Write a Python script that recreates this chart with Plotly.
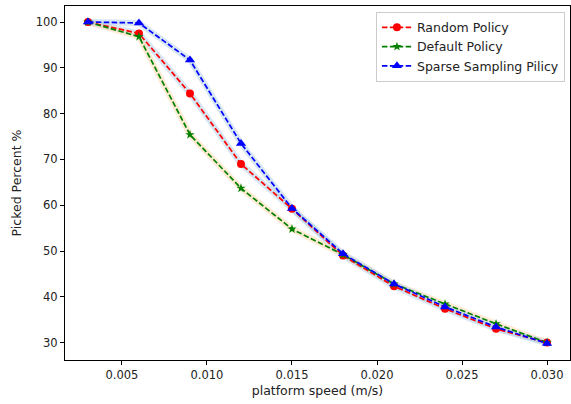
import plotly.graph_objects as go

# platform speed (m/s)
speed = [0.003, 0.006, 0.009, 0.012, 0.015, 0.018, 0.021, 0.024, 0.027, 0.030]

# picked percent per policy
random_policy = [100.0, 97.5, 84.4, 69.0, 59.2, 49.0, 42.3, 37.4, 33.0, 30.0]
default_policy = [100.0, 96.8, 75.4, 63.7, 54.8, 49.2, 42.8, 38.4, 34.1, 30.0]
sparse_policy = [100.0, 99.8, 91.7, 73.5, 59.3, 49.4, 42.8, 37.8, 33.4, 29.8]

series = [
    ("Random Policy", random_policy, "red", "circle", 8, "rgba(173,205,230,0.5)"),
    ("Default Policy", default_policy, "green", "star", 7, "rgba(255,215,170,0.5)"),
    ("Sparse Sampling Pilicy", sparse_policy, "blue", "triangle-up", 9, "rgba(173,205,230,0.5)"),
]

FONT = "DejaVu Sans"
TXT = "#222"

fig = go.Figure()

# soft bands behind each curve
for name, y, color, symbol, size, band in series:
    fig.add_trace(go.Scatter(
        x=speed, y=y, mode="lines", showlegend=False, hoverinfo="skip",
        line=dict(color=band, width=6),
    ))

for name, y, color, symbol, size, band in series:
    fig.add_trace(go.Scatter(
        x=speed, y=y, mode="lines+markers", name=name, legendgroup=name,
        line=dict(color=color, width=1.7, dash="5.5px,2.4px"),
        marker=dict(symbol=symbol, size=size, color=color),
    ))

axis_style = dict(
    showline=True, linecolor="black", linewidth=1, mirror=True,
    ticks="outside", ticklen=4, tickcolor="black", showgrid=False, zeroline=False,
    tickfont=dict(family=FONT, size=11.5, color=TXT),
)

fig.update_xaxes(
    range=[0.00165, 0.03135], tickvals=[0.005, 0.010, 0.015, 0.020, 0.025, 0.030],
    tickformat=".3f",
    title=dict(text="platform speed (m/s)", font=dict(family=FONT, size=12.5, color=TXT), standoff=5),
    **axis_style,
)
fig.update_yaxes(
    range=[26.2, 103.5], tickvals=[30, 40, 50, 60, 70, 80, 90, 100],
    title=dict(text="Picked Percent %", font=dict(family=FONT, size=12.5, color=TXT), standoff=11),
    **axis_style,
)

fig.update_layout(
    width=571, height=404,
    margin=dict(l=65, r=1, t=6, b=44),
    plot_bgcolor="white", paper_bgcolor="white",
    font=dict(family=FONT, size=12, color=TXT),
    legend=dict(
        x=0.99, y=0.984, xanchor="right", yanchor="top",
        bgcolor="white", bordercolor="#ccc", borderwidth=1,
        font=dict(family=FONT, size=12.5, color=TXT),
        itemwidth=30, tracegroupgap=0,
    ),
)

fig.write_html("out.html", config={"displayModeBar": False},
               post_script="document.body.style.margin='0';")
